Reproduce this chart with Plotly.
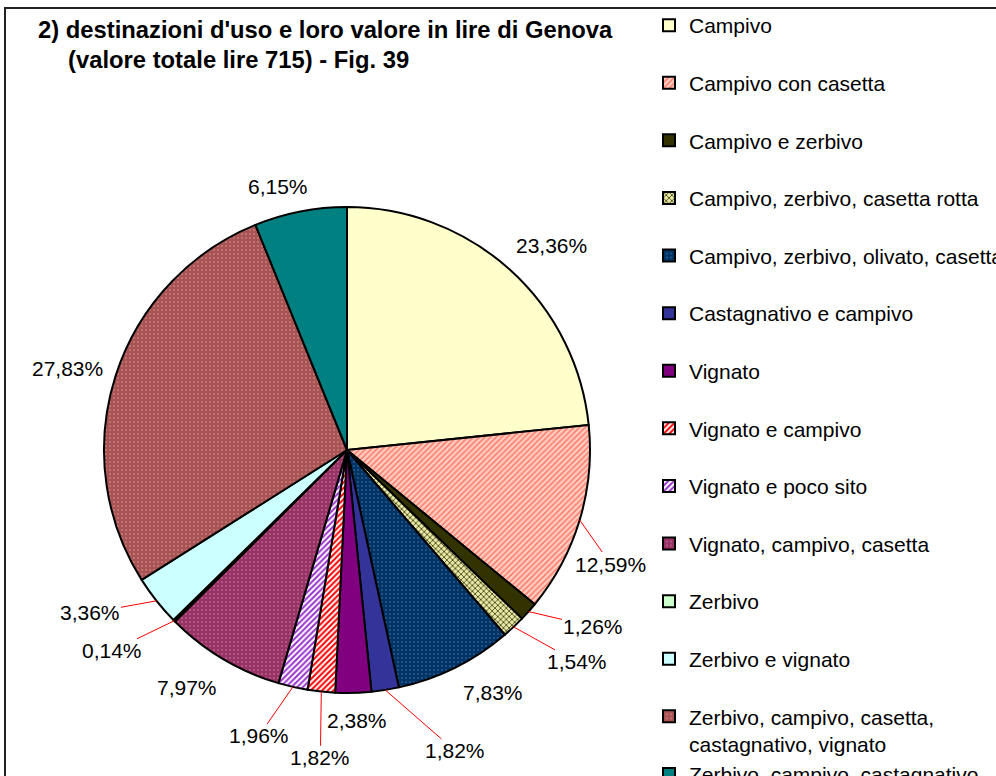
import math
import plotly.graph_objects as go

# ---------------- data ----------------
categories = [
    "Campivo",
    "Campivo con casetta",
    "Campivo e zerbivo",
    "Campivo, zerbivo, casetta rotta",
    "Campivo, zerbivo, olivato, casetta",
    "Castagnativo e campivo",
    "Vignato",
    "Vignato e campivo",
    "Vignato e poco sito",
    "Vignato, campivo, casetta",
    "Zerbivo",
    "Zerbivo e vignato",
    "Zerbivo, campivo, casetta, castagnativo, vignato",
    "Zerbivo, campivo, castagnativo, vignato",
]
percent_values = [23.36, 12.59, 1.26, 1.54, 7.83, 1.82, 2.38, 1.82, 1.96, 7.97, 0.14, 3.36, 27.83, 6.15]

title_line1 = "2) destinazioni d'uso e loro valore in lire di Genova"
title_line2 = "(valore totale lire 715) - Fig. 39"

# ---------------- styles ----------------
W, H = 996, 776
CX, CY, R = 347, 450, 243          # pie centre / radius in pixels
FONT = "Liberation Sans, Arial, sans-serif"

colors = ["#FFFFCC", "#FFA898", "#333300", "#D8D890", "#003366", "#333399", "#800080",
          "#FF8888", "#CC99DD", "#993366", "#CCFFCC", "#CCFFFF", "#B05C5C", "#008080"]
pat_shape = ["", "/", "", "x", ".", "", "", "/", "/", ".", "", "", ".", ""]
pat_fg = ["#FFFFCC", "#FF8070", "#333300", "#333300", "#2E5C8C", "#333399", "#800080",
          "#FF0000", "#9933CC", "#B5628C", "#CCFFCC", "#CCFFFF", "#C87C7C", "#008080"]
pat_bg = ["#FFFFCC", "#FFD0C4", "#333300", "#E8E8A8", "#003366", "#333399", "#800080",
          "#FFFFFF", "#FFFFFF", "#993366", "#CCFFCC", "#CCFFFF", "#A85454", "#008080"]
pat_size = [4, 4, 4, 4, 4, 4, 4, 4, 4, 4, 4, 4, 4, 4]
pat_sol = [0.3, 0.45, 0.3, 0.35, 0.2, 0.3, 0.3, 0.5, 0.5, 0.2, 0.3, 0.3, 0.2, 0.3]

# label text offsets (pixels) from the slice rim point, and whether a leader line is drawn
label_dx = [42, 31, 64, 63, 38, 70, 4, -1, -34, -36, -62, -66, -48, -22]
label_dy = [-24, 44, 15, 35, 25, 61, 28, 66, 49, 29, 30, 12, -7, -25]
leader = [False, True, True, True, False, True, False, True, True, False, True, True, False, False]


def legend_name(name):
    if len(name) > 34:
        cut = name.rfind(",", 0, 32)
        return name[:cut + 1] + "<br>" + name[cut + 2:]
    return name + "<br>\u00a0"


legend_names = [legend_name(c) for c in categories]

fig = go.Figure()
fig.add_trace(go.Pie(
    labels=legend_names,
    values=percent_values,
    sort=False,
    direction="clockwise",
    rotation=0,
    textinfo="none",
    hoverinfo="label+percent",
    marker=dict(
        colors=colors,
        line=dict(color="black", width=2),
        pattern=dict(shape=pat_shape, fgcolor=pat_fg, bgcolor=pat_bg,
                     size=pat_size, solidity=pat_sol, fillmode="replace"),
    ),
    domain=dict(x=[(CX - R) / W, (CX + R) / W], y=[1 - (CY + R) / H, 1 - (CY - R) / H]),
))

# percentage labels
total = sum(percent_values)
annotations = []
cum = 0.0
for v, dx, dy, ld in zip(percent_values, label_dx, label_dy, leader):
    mid = (cum + v / 2) / total * 2 * math.pi
    cum += v
    px = CX + R * math.sin(mid)
    py = CY - R * math.cos(mid)
    annotations.append(dict(
        x=px / W, y=1 - py / H, xref="paper", yref="paper",
        text=f"{v:.2f}".replace(".", ",") + "%",
        showarrow=True, ax=dx, ay=dy, arrowhead=0, arrowwidth=1, standoff=0,
        arrowcolor="#FF0000" if ld else "rgba(0,0,0,0)",
        font=dict(family=FONT, size=21, color="black"),
        borderpad=0,
    ))

annotations.append(dict(x=36 / W, y=1 - 30 / H, xref="paper", yref="paper", xanchor="left",
                        yanchor="middle", showarrow=False, text="<b>" + title_line1 + "</b>",
                        font=dict(family=FONT, size=23.8, color="black")))
annotations.append(dict(x=66 / W, y=1 - 60 / H, xref="paper", yref="paper", xanchor="left",
                        yanchor="middle", showarrow=False, text="<b>" + title_line2 + "</b>",
                        font=dict(family=FONT, size=23.8, color="black")))

fig.update_layout(
    width=W, height=H,
    margin=dict(l=0, r=0, t=0, b=0, autoexpand=False),
    paper_bgcolor="white",
    plot_bgcolor="white",
    showlegend=True,
    legend=dict(x=649 / W, y=1 - 5 / H, xanchor="left", yanchor="top",
                font=dict(family=FONT, size=21, color="black"),
                valign="top", bgcolor="rgba(0,0,0,0)", borderwidth=0, traceorder="normal"),
    annotations=annotations,
    shapes=[dict(type="rect", xref="paper", yref="paper", x0=5 / W, y0=1 - 8 / H,
                 x1=1.2, y1=-0.2, line=dict(color="#222222", width=2), layer="below")],
)

fig.write_html("out.html",
               config={"displayModeBar": False},
               post_script="document.body.style.margin='0';document.body.style.overflow='hidden';")
